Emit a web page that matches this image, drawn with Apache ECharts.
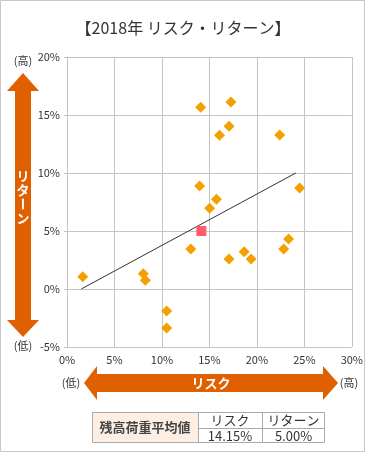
<!DOCTYPE html>
<html><head><meta charset="utf-8">
<script src="https://cdn.jsdelivr.net/npm/echarts@6/dist/echarts.min.js"></script>
<style>html,body{margin:0;padding:0;background:#fff;}#c{width:366px;height:458px;}</style>
</head><body><div id="c"></div>
<script>
const titleText = '【2018年 リスク・リターン】';
const xTickValues = [0, 5, 10, 15, 20, 25, 30];
const yTickValues = [-5, 0, 5, 10, 15, 20];
const riskX = [14.08, 17.27, 17.07, 16.06, 22.40, 13.97, 24.50, 15.74, 15.02, 13.04, 23.34, 22.82, 18.66, 19.39, 17.06, 1.66, 8.04, 8.25, 10.50, 10.50];
const returnY = [15.66, 16.12, 14.03, 13.25, 13.28, 8.88, 8.70, 7.73, 6.96, 3.45, 4.31, 3.45, 3.22, 2.59, 2.59, 1.06, 1.32, 0.75, -1.90, -3.36];
const avgRisk = 14.15;
const avgReturn = 5.00;
const trendX = [1.5, 24.1];
const trendY = [0.0, 10.0];
const tableHeader = ['リスク', 'リターン'];
const tableValues = ['14.15%', '5.00%'];
const tableLabel = '残高荷重平均値';

const FONT = '"Noto Sans CJK JP", "Noto Sans", sans-serif';
const ORANGE = '#e06000';
const TXT = '#333';
const GRID = '#c4c4c4';

const chart = echarts.init(document.getElementById('c'), null, {renderer: 'canvas'});

const pts = riskX.map((x, i) => [x, returnY[i]]);
const trend = trendX.map((x, i) => [x, trendY[i]]);

function txt(x, y, text, opts) {
  return Object.assign({
    type: 'text', x: x, y: y, z: 10,
    style: Object.assign({text: text, fill: TXT, font: '11px ' + FONT, align: 'center', verticalAlign: 'middle'}, opts || {})
  });
}

const cx = 23;
const vArrow = [[cx, 73], [39, 91], [31, 91], [31, 320], [39, 320], [cx, 337], [7, 320], [15, 320], [15, 91], [7, 91]];
const cy = 383;
const hArrow = [[84, cy], [97, 366], [97, 374], [323, 374], [323, 366], [338, cy], [323, 400], [323, 392], [97, 392], [97, 400]];

const vertChars = ['リ', 'タ', 'ー', 'ン'];
const vertEls = vertChars.map((ch, i) => ({
  type: 'text', x: cx, y: 176 + i * 14, z: 10,
  rotation: ch === 'ー' ? -Math.PI / 2 : 0,
  style: {text: ch, fill: '#fff', font: 'bold 13px ' + FONT, align: 'center', verticalAlign: 'middle'}
}));

const tL = 92, tR = 325, tT = 412, tM = 428, tB = 443, c1 = 198, c2 = 262;
const tableEls = [
  {type: 'rect', shape: {x: tL, y: tT, width: c1 - tL, height: tB - tT}, style: {fill: '#fdeee4', stroke: null}},
  {type: 'polyline', shape: {points: [[tL + 0.5, tT + 0.5], [tR - 0.5, tT + 0.5], [tR - 0.5, tB - 0.5], [tL + 0.5, tB - 0.5], [tL + 0.5, tT + 0.5]]}, style: {stroke: '#aaa', lineWidth: 1, fill: null}},
  {type: 'line', shape: {x1: c1 + 0.5, y1: tT, x2: c1 + 0.5, y2: tB}, style: {stroke: '#aaa', lineWidth: 1}},
  {type: 'line', shape: {x1: c2 + 0.5, y1: tT, x2: c2 + 0.5, y2: tB}, style: {stroke: '#aaa', lineWidth: 1}},
  {type: 'line', shape: {x1: c1, y1: tM + 0.5, x2: tR, y2: tM + 0.5}, style: {stroke: '#aaa', lineWidth: 1}},
  txt((tL + c1) / 2, (tT + tB) / 2, tableLabel, {font: 'bold 13px ' + FONT, fill: '#444'}),
  txt((c1 + c2) / 2, (tT + tM) / 2 + 0.5, tableHeader[0], {font: '13px ' + FONT}),
  txt((c2 + tR) / 2, (tT + tM) / 2 + 0.5, tableHeader[1], {font: '13px ' + FONT}),
  txt((c1 + c2) / 2, (tM + tB) / 2 + 0.5, tableValues[0], {font: '13px ' + FONT}),
  txt((c2 + tR) / 2, (tM + tB) / 2 + 0.5, tableValues[1], {font: '13px ' + FONT})
];

const option = {
  backgroundColor: '#fff',
  animation: false,
  title: {
    text: titleText, left: 'center', top: 15,
    textStyle: {fontFamily: FONT, fontSize: 16, fontWeight: 'normal', color: TXT}
  },
  grid: {left: 67, right: 11, top: 57, bottom: 111, containLabel: false},
  xAxis: {
    type: 'value', min: 0, max: 30, interval: 5,
    axisLine: {show: true, lineStyle: {color: GRID}},
    axisTick: {show: false},
    splitLine: {show: true, lineStyle: {color: GRID, width: 1}},
    axisLabel: {
      margin: 7, color: TXT, fontFamily: FONT, fontSize: 11,
      formatter: v => xTickValues.indexOf(v) >= 0 ? v + '%' : ''
    }
  },
  yAxis: {
    type: 'value', min: -5, max: 20, interval: 5,
    axisLine: {show: true, lineStyle: {color: GRID}},
    axisTick: {show: true, inside: false, length: 3, lineStyle: {color: GRID}},
    splitLine: {show: true, lineStyle: {color: GRID, width: 1}},
    axisLabel: {
      margin: 7, color: TXT, fontFamily: FONT, fontSize: 11,
      formatter: v => yTickValues.indexOf(v) >= 0 ? v + '%' : ''
    }
  },
  series: [
    {
      type: 'line', data: trend, symbol: 'none', silent: true, z: 2,
      lineStyle: {color: '#333', width: 1}
    },
    {
      type: 'scatter', data: pts, symbol: 'diamond', symbolSize: 11, z: 3,
      itemStyle: {color: '#f5a000', opacity: 1}
    },
    {
      type: 'scatter', data: [[avgRisk, avgReturn]], symbol: 'rect', symbolSize: 10, z: 4,
      itemStyle: {color: '#ff5b6b', opacity: 1}
    }
  ],
  graphic: [
    {type: 'rect', shape: {x: 0.5, y: 0.5, width: 364, height: 451}, style: {fill: null, stroke: '#c8c8c8', lineWidth: 1}, z: 0},
    {type: 'polygon', shape: {points: vArrow}, style: {fill: ORANGE}, z: 5},
    {type: 'polygon', shape: {points: hArrow}, style: {fill: ORANGE}, z: 5},
    txt(23, 61, '(高)'),
    txt(23, 346, '(低)'),
    txt(71, 383, '(低)'),
    txt(349, 383, '(高)'),
    txt(211, 383, 'リスク', {fill: '#fff', font: 'bold 13px ' + FONT}),
    ...vertEls,
    ...tableEls
  ]
};
chart.setOption(option);
</script>
</body></html>
